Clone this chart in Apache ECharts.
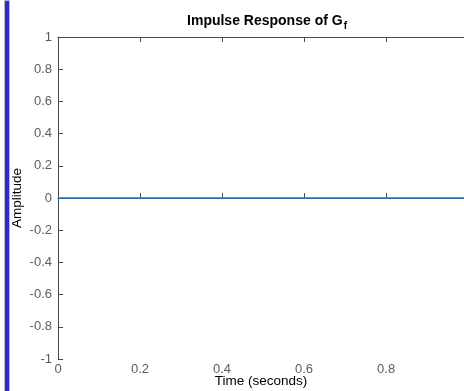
<!DOCTYPE html>
<html>
<head>
<meta charset="utf-8">
<script src="https://cdn.jsdelivr.net/npm/echarts@6/dist/echarts.min.js"></script>
<style>
html,body{margin:0;padding:0;background:#fff;}
#chart{width:464px;height:391px;}
</style>
</head>
<body>
<div id="chart"></div>
<script>
var timeValues = [0, 0.1, 0.2, 0.3, 0.4, 0.5, 0.6, 0.7, 0.8, 0.9, 0.99];
var amplitudeValues = [0, 0, 0, 0, 0, 0, 0, 0, 0, 0, 0];
var xTicks = [0, 0.2, 0.4, 0.6, 0.8];
var yTicks = [-1, -0.8, -0.6, -0.4, -0.2, 0, 0.2, 0.4, 0.6, 0.8, 1];

var chart = echarts.init(document.getElementById('chart'), null, {renderer: 'canvas'});
var font = 'Liberation Sans, Arial, Helvetica, sans-serif';
var axisColor = '#4a4a4a';
var labelColor = '#5c5c5c';

var pts = timeValues.map(function (t, i) { return [t, amplitudeValues[i]]; });

chart.setOption({
  animation: false,
  backgroundColor: '#ffffff',
  title: {
    text: '{a|Impulse Response of G}{s|f}',
    left: 262,
    textAlign: 'center',
    top: 7,
    textStyle: {
      rich: {
        a: {fontFamily: font, fontSize: 14, fontWeight: 'bold', color: '#000'},
        s: {fontFamily: font, fontSize: 10, fontWeight: 'bold', color: '#000', padding: [9, 0, 0, 1]}
      }
    }
  },
  grid: {left: 58, right: 0, top: 37, bottom: 32, containLabel: false, outerBoundsMode: 'none'},
  xAxis: [{
    type: 'value', min: 0, max: 0.99, interval: 0.2, position: 'bottom',
    name: 'Time (seconds)', nameLocation: 'middle', nameGap: 15, nameMoveOverlap: false,
    nameTextStyle: {fontFamily: font, fontSize: 13.5, color: '#000'},
    axisLine: {show: true, lineStyle: {color: axisColor, width: 1}},
    axisTick: {show: true, inside: true, length: 5, lineStyle: {color: axisColor}},
    axisLabel: {show: true, margin: 4, fontFamily: font, fontSize: 13, color: labelColor, showMaxLabel: false,
      formatter: function (v) { return xTicks.indexOf(Math.round(v * 10) / 10) >= 0 ? String(Math.round(v * 10) / 10) : ''; }},
    splitLine: {show: false}
  }, {
    type: 'value', min: 0, max: 0.99, interval: 0.2, position: 'top',
    axisLine: {show: true, onZero: false, lineStyle: {color: axisColor, width: 1}},
    axisTick: {show: true, inside: true, length: 5, lineStyle: {color: axisColor}},
    axisLabel: {show: false}, splitLine: {show: false}
  }],
  yAxis: [{
    type: 'value', min: -1, max: 1, interval: 0.2, position: 'left',
    name: 'Amplitude', nameLocation: 'middle', nameGap: 34, nameMoveOverlap: false,
    nameTextStyle: {fontFamily: font, fontSize: 13.5, color: '#000'},
    axisLine: {show: true, onZero: false, lineStyle: {color: axisColor, width: 1}},
    axisTick: {show: true, inside: true, length: 5, lineStyle: {color: axisColor}},
    axisLabel: {show: true, margin: 6, fontFamily: font, fontSize: 13, color: labelColor,
      formatter: function (v) { return String(Math.round(v * 10) / 10); }},
    splitLine: {show: false}
  }],
  series: [{
    type: 'line', xAxisIndex: 0, yAxisIndex: 0,
    data: pts, showSymbol: false, symbol: 'none',
    lineStyle: {color: '#1a74c4', width: 1.5}
  }],
  graphic: [{
    type: 'rect', left: 4, top: 0, shape: {width: 5, height: 391},
    style: {fill: '#2b2bd0', stroke: '#b8b8c8', lineWidth: 1}, z: 100
  }]
});
</script>
</body>
</html>
